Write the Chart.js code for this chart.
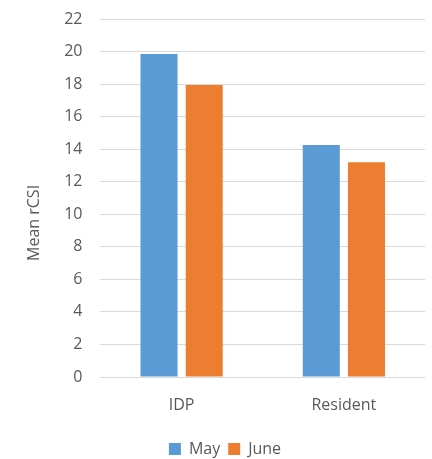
<!DOCTYPE html>
<html>
<head>
<meta charset="utf-8">
<script src="https://cdn.jsdelivr.net/npm/chart.js@4/dist/chart.umd.min.js"></script>
<style>
  html, body { margin: 0; padding: 0; background: #fff; }
  #wrap { width: 432px; height: 459px; }
</style>
</head>
<body>
<div id="wrap"><canvas id="rcsiChart" width="432" height="459"></canvas></div>
<script>
// Chart data
const categories = ['IDP', 'Resident'];
const mayValues = [19.85, 14.25];
const juneValues = [17.95, 13.2];
const yTicks = [0, 2, 4, 6, 8, 10, 12, 14, 16, 18, 20, 22];

const textColor = '#595959';
const fontFamily = '"Open Sans", "DejaVu Sans", sans-serif';
const fontSize = 16;

// legend sits lower than Chart.js puts it by default
const legendShift = {
    id: 'legendShift',
    afterLayout(chart) {
        chart.legend.top += 8;
        chart.legend.bottom += 8;
    }
};

const ctx = document.getElementById('rcsiChart');

new Chart(ctx, {
    type: 'bar',
    data: {
        labels: categories,
        datasets: [{
            label: 'May',
            data: mayValues,
            backgroundColor: '#5B9BD5',
            categoryPercentage: 0.557,
            barPercentage: 0.82
        }, {
            label: 'June',
            data: juneValues,
            backgroundColor: '#ED7D31',
            categoryPercentage: 0.557,
            barPercentage: 0.82
        }]
    },
    options: {
        responsive: false,
        animation: false,
        layout: {
            padding: { top: 19, right: 7, bottom: 0, left: 25 }
        },
        plugins: {
            tooltip: { enabled: false },
            legend: {
                position: 'bottom',
                labels: {
                    color: textColor,
                    font: { family: fontFamily, size: fontSize },
                    boxWidth: 12,
                    boxHeight: 12,
                    padding: 8
                }
            }
        },
        scales: {
            x: {
                grid: { display: false },
                border: { display: false },
                ticks: {
                    color: textColor,
                    font: { family: fontFamily, size: fontSize },
                    padding: 11
                },
                afterFit: scale => {
                    scale.height = 48;
                }
            },
            y: {
                min: yTicks[0],
                max: yTicks[yTicks.length - 1],
                afterBuildTicks: axis => {
                    axis.ticks = yTicks.map(v => ({ value: v }));
                },
                afterFit: scale => {
                    scale.paddingTop = 0;
                },
                grid: { color: '#D9D9D9', lineWidth: 1, drawTicks: false },
                border: { display: false },
                ticks: {
                    color: textColor,
                    font: { family: fontFamily, size: fontSize },
                    padding: 18
                },
                title: {
                    display: true,
                    // trailing spaces push the visible text down like the original
                    text: 'Mean rCSI' + ' '.repeat(12),
                    color: textColor,
                    font: { family: fontFamily, size: fontSize },
                    padding: { top: 0, bottom: 2 }
                }
            }
        }
    },
    plugins: [legendShift]
});
</script>
</body>
</html>
